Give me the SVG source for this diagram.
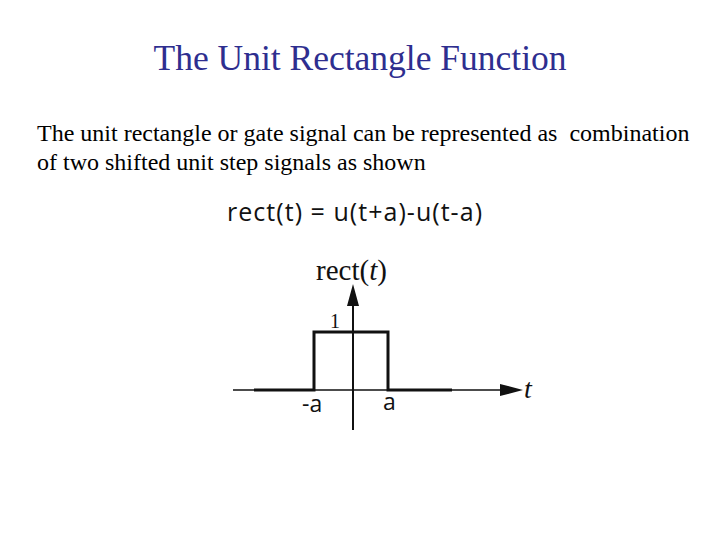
<svg xmlns="http://www.w3.org/2000/svg" width="720" height="540" viewBox="0 0 720 540">
<style>
.s{font-family:"Liberation Serif",serif}
.c{font-family:"Open Sans","DejaVu Sans",sans-serif;fill:#111}
.ln{stroke:#111;fill:none}
</style>
<rect width="720" height="540" fill="#fff"/>
<text class="s" x="360" y="70" font-size="35.5" fill="#2e2e8f" text-anchor="middle">The Unit Rectangle Function</text>
<text class="s" x="37" y="141" font-size="24" fill="#000" xml:space="preserve">The unit rectangle or gate signal can be represented as  combination</text>
<text class="s" x="37" y="170" font-size="24" fill="#000">of two shifted unit step signals as shown</text>
<text class="c" x="227" y="221" font-size="25" font-weight="500" textLength="255">rect(t) = u(t+a)-u(t-a)</text>
<g id="axes">
<line class="ln" x1="353" y1="300" x2="353" y2="430" stroke-width="2"/>
<polygon points="353,284 347,306 359,306" fill="#111"/>
<line class="ln" x1="233" y1="390" x2="505" y2="390" stroke-width="1.5"/>
<polygon points="523,390 500,384 500,396" fill="#111"/>
<text class="s" x="316" y="280" font-size="29" fill="#111">rect(<tspan font-style="italic">t</tspan>)</text>
<text class="s" x="524" y="398" font-size="28" font-style="italic" fill="#111">t</text>
</g>
<g id="signal">
<polyline class="ln" stroke-width="3" points="254,390 314,390 314,332 388,332 388,390 452,390"/>
<text class="s" x="330" y="328" font-size="20" fill="#111">1</text>
<text class="c" x="302" y="412" font-size="23">-a</text>
<text class="c" x="383" y="410" font-size="23">a</text>
</g>
</svg>
